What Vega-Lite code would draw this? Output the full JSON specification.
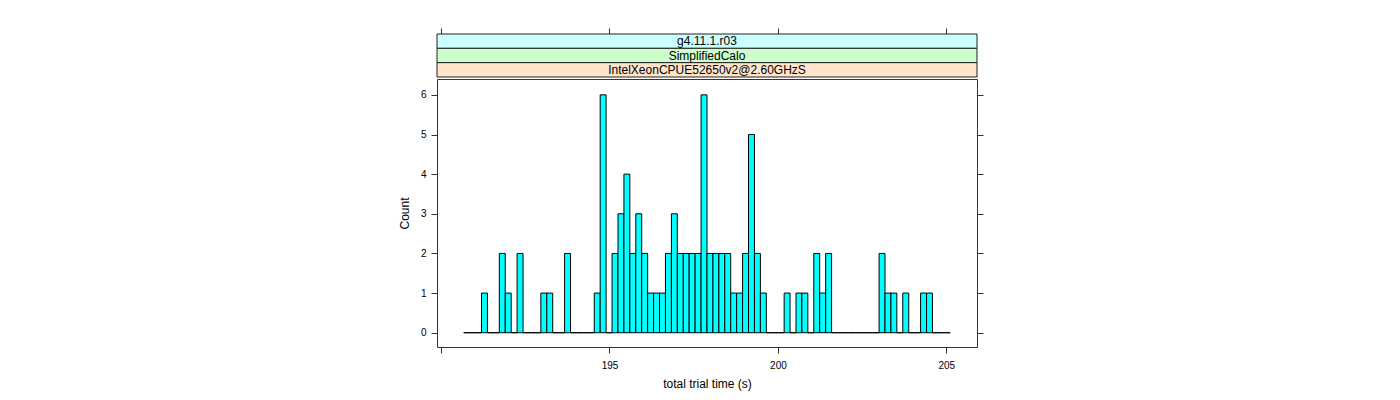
{
  "$schema": "https://vega.github.io/schema/vega-lite/v6.json",
  "padding": {"left": 397, "top": 27, "right": 5, "bottom": 5},
  "spacing": 0,
  "config": {
    "font": "Liberation Sans",
    "view": {"stroke": "#333", "strokeWidth": 1},
    "axis": {"tickColor": "#333", "labelColor": "#000", "titleColor": "#000", "grid": false, "domain": false, "tickSize": 6, "labelFontSize": 10, "titleFontSize": 12, "titleFontWeight": "normal"}
  },
  "datasets": {
    "strips": [
      {"label": "g4.11.1.r03"},
      {"label": "SimplifiedCalo"},
      {"label": "IntelXeonCPUE52650v2@2.60GHzS"}
    ],
    "bins": [
      {"start": 190.673, "end": 190.849, "count": 0},
      {"start": 190.849, "end": 191.025, "count": 0},
      {"start": 191.025, "end": 191.201, "count": 0},
      {"start": 191.201, "end": 191.378, "count": 1},
      {"start": 191.378, "end": 191.554, "count": 0},
      {"start": 191.554, "end": 191.730, "count": 0},
      {"start": 191.730, "end": 191.906, "count": 2},
      {"start": 191.906, "end": 192.082, "count": 1},
      {"start": 192.082, "end": 192.258, "count": 0},
      {"start": 192.258, "end": 192.434, "count": 2},
      {"start": 192.434, "end": 192.611, "count": 0},
      {"start": 192.611, "end": 192.787, "count": 0},
      {"start": 192.787, "end": 192.963, "count": 0},
      {"start": 192.963, "end": 193.139, "count": 1},
      {"start": 193.139, "end": 193.315, "count": 1},
      {"start": 193.315, "end": 193.491, "count": 0},
      {"start": 193.491, "end": 193.667, "count": 0},
      {"start": 193.667, "end": 193.844, "count": 2},
      {"start": 193.844, "end": 194.020, "count": 0},
      {"start": 194.020, "end": 194.196, "count": 0},
      {"start": 194.196, "end": 194.372, "count": 0},
      {"start": 194.372, "end": 194.548, "count": 0},
      {"start": 194.548, "end": 194.724, "count": 1},
      {"start": 194.724, "end": 194.900, "count": 6},
      {"start": 194.900, "end": 195.077, "count": 0},
      {"start": 195.077, "end": 195.253, "count": 2},
      {"start": 195.253, "end": 195.429, "count": 3},
      {"start": 195.429, "end": 195.605, "count": 4},
      {"start": 195.605, "end": 195.781, "count": 2},
      {"start": 195.781, "end": 195.957, "count": 3},
      {"start": 195.957, "end": 196.133, "count": 2},
      {"start": 196.133, "end": 196.309, "count": 1},
      {"start": 196.309, "end": 196.486, "count": 1},
      {"start": 196.486, "end": 196.662, "count": 1},
      {"start": 196.662, "end": 196.838, "count": 2},
      {"start": 196.838, "end": 197.014, "count": 3},
      {"start": 197.014, "end": 197.190, "count": 2},
      {"start": 197.190, "end": 197.366, "count": 2},
      {"start": 197.366, "end": 197.542, "count": 2},
      {"start": 197.542, "end": 197.719, "count": 2},
      {"start": 197.719, "end": 197.895, "count": 6},
      {"start": 197.895, "end": 198.071, "count": 2},
      {"start": 198.071, "end": 198.247, "count": 2},
      {"start": 198.247, "end": 198.423, "count": 2},
      {"start": 198.423, "end": 198.599, "count": 2},
      {"start": 198.599, "end": 198.775, "count": 1},
      {"start": 198.775, "end": 198.952, "count": 1},
      {"start": 198.952, "end": 199.128, "count": 2},
      {"start": 199.128, "end": 199.304, "count": 5},
      {"start": 199.304, "end": 199.480, "count": 2},
      {"start": 199.480, "end": 199.656, "count": 1},
      {"start": 199.656, "end": 199.832, "count": 0},
      {"start": 199.832, "end": 200.008, "count": 0},
      {"start": 200.008, "end": 200.185, "count": 0},
      {"start": 200.185, "end": 200.361, "count": 1},
      {"start": 200.361, "end": 200.537, "count": 0},
      {"start": 200.537, "end": 200.713, "count": 1},
      {"start": 200.713, "end": 200.889, "count": 1},
      {"start": 200.889, "end": 201.065, "count": 0},
      {"start": 201.065, "end": 201.241, "count": 2},
      {"start": 201.241, "end": 201.418, "count": 1},
      {"start": 201.418, "end": 201.594, "count": 2},
      {"start": 201.594, "end": 201.770, "count": 0},
      {"start": 201.770, "end": 201.946, "count": 0},
      {"start": 201.946, "end": 202.122, "count": 0},
      {"start": 202.122, "end": 202.298, "count": 0},
      {"start": 202.298, "end": 202.474, "count": 0},
      {"start": 202.474, "end": 202.651, "count": 0},
      {"start": 202.651, "end": 202.827, "count": 0},
      {"start": 202.827, "end": 203.003, "count": 0},
      {"start": 203.003, "end": 203.179, "count": 2},
      {"start": 203.179, "end": 203.355, "count": 1},
      {"start": 203.355, "end": 203.531, "count": 1},
      {"start": 203.531, "end": 203.707, "count": 0},
      {"start": 203.707, "end": 203.884, "count": 1},
      {"start": 203.884, "end": 204.060, "count": 0},
      {"start": 204.060, "end": 204.236, "count": 0},
      {"start": 204.236, "end": 204.412, "count": 1},
      {"start": 204.412, "end": 204.588, "count": 1},
      {"start": 204.588, "end": 204.764, "count": 0},
      {"start": 204.764, "end": 204.940, "count": 0},
      {"start": 204.940, "end": 205.116, "count": 0}
    ]
  },
  "vconcat": [
    {
      "width": 540,
      "height": 43,
      "view": {"stroke": null},
      "data": {"name": "strips"},
      "encoding": {
        "y": {"field": "label", "type": "nominal", "sort": ["g4.11.1.r03", "SimplifiedCalo", "IntelXeonCPUE52650v2@2.60GHzS"], "axis": null, "scale": {"paddingInner": 0, "paddingOuter": 0}}
      },
      "layer": [
        {
          "mark": {"type": "rect", "stroke": "#222", "strokeWidth": 1},
          "encoding": {
            "x": {"datum": 189.88, "type": "quantitative", "scale": {"domain": [189.88, 205.91], "nice": false, "zero": false}, "axis": {"orient": "top", "values": [190, 195, 200, 205], "labels": false, "title": null}},
            "x2": {"datum": 205.91},
            "fill": {"field": "label", "type": "nominal", "scale": {"domain": ["g4.11.1.r03", "SimplifiedCalo", "IntelXeonCPUE52650v2@2.60GHzS"], "range": ["#ccffff", "#ccffcc", "#ffe5cc"]}, "legend": null}
          }
        },
        {
          "mark": {"type": "text", "fontSize": 12, "color": "#000"},
          "encoding": {"text": {"field": "label"}}
        }
      ]
    },
    {
      "width": 540,
      "height": 268,
      "data": {"name": "bins"},
      "layer": [
        {
          "mark": {"type": "rect", "fill": "#00ffff", "stroke": "#000", "strokeWidth": 1},
          "encoding": {
            "x": {"field": "start", "type": "quantitative", "scale": {"domain": [189.88, 205.91], "nice": false, "zero": false}, "axis": {"orient": "bottom", "values": [190, 195, 200, 205], "labelExpr": "datum.value == 190 ? '' : datum.label", "title": "total trial time (s)", "labelPadding": 7, "titlePadding": 8}},
            "x2": {"field": "end"},
            "y": {"field": "count", "type": "quantitative", "scale": {"domain": [-0.36, 6.4], "nice": false, "zero": false}, "axis": {"orient": "left", "values": [0, 1, 2, 3, 4, 5, 6], "title": "Count", "labelPadding": 5, "titlePadding": 9}},
            "y2": {"datum": 0}
          }
        },
        {
          "mark": {"type": "point", "opacity": 0},
          "encoding": {
            "y": {"field": "count", "type": "quantitative", "axis": {"orient": "right", "values": [0, 1, 2, 3, 4, 5, 6], "labels": false, "title": null}}
          }
        }
      ],
      "resolve": {"axis": {"y": "independent"}}
    }
  ]
}
